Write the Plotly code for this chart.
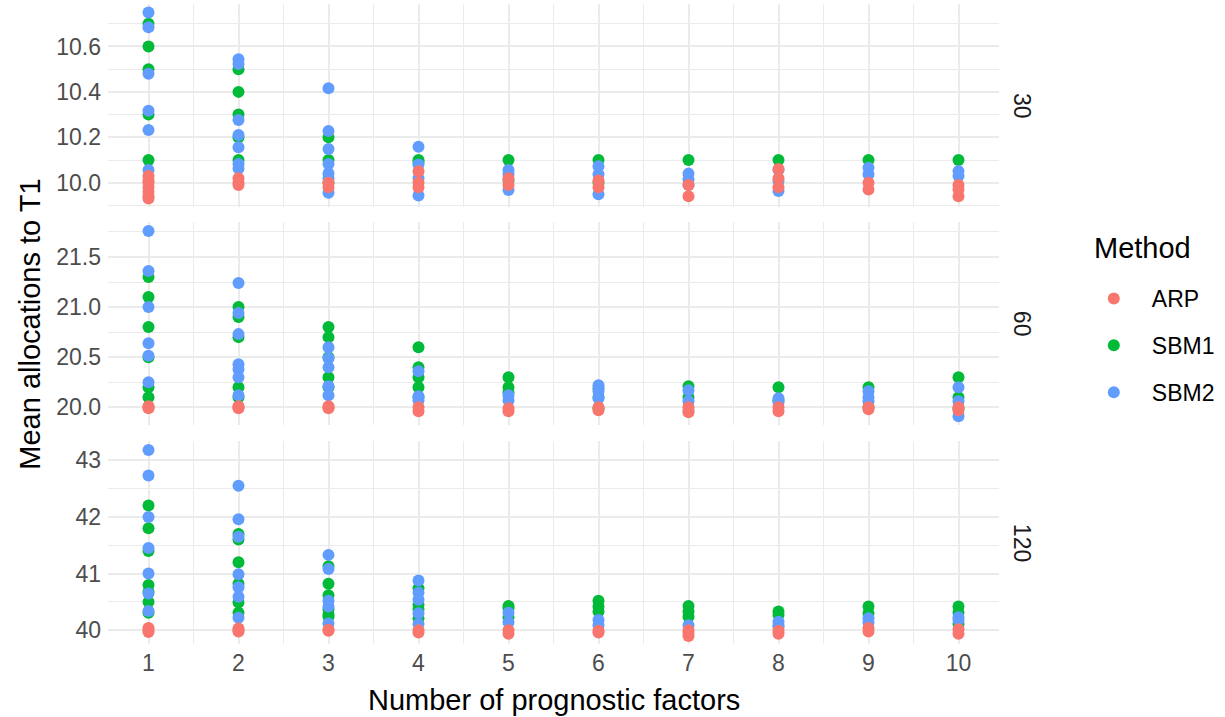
import plotly.graph_objects as go

factors = list(range(1, 11))
methods = ["ARP", "SBM1", "SBM2"]
colors = {"ARP": "#F8766D", "SBM1": "#00BA38", "SBM2": "#619CFF"}
panel_labels = ["30", "60", "120"]

# values per number of prognostic factors (1..10)
arp_30 = [[10.03, 10.01, 10.0, 9.98, 9.96, 9.94, 9.93], [10.02, 10.0, 9.99], [10.0, 9.98],
          [10.05, 10.0, 9.98], [10.02, 9.99], [10.01, 9.98], [9.99, 9.94],
          [10.06, 10.02, 9.98], [10.0, 9.97], [9.99, 9.97, 9.94]]
sbm1_30 = [[10.7, 10.6, 10.5, 10.3, 10.1], [10.5, 10.4, 10.3, 10.2, 10.1], [10.2, 10.1, 10.0],
           [10.1, 10.09], [10.1, 10.01], [10.1, 10.0], [10.1], [10.1], [10.1], [10.1]]
sbm2_30 = [[10.75, 10.685, 10.48, 10.317, 10.232, 10.056],
           [10.544, 10.523, 10.276, 10.21, 10.156, 10.082, 10.063],
           [10.416, 10.228, 10.148, 10.082, 10.041, 10.02, 9.956],
           [10.158, 10.08, 10.02, 9.944], [10.056, 10.037, 9.968], [10.073, 10.037, 9.949],
           [10.04, 10.015, 9.99], [10.056, 10.007, 9.963], [10.066, 10.037], [10.051, 10.03]]

arp_60 = [[20.01, 20.0, 19.99], [20.01, 20.0, 19.99], [20.01, 20.0, 19.99], [20.0, 19.96],
          [19.99, 19.96], [20.0, 19.97], [20.0, 19.95], [20.0, 19.96], [19.98, 20.0], [19.97, 20.0]]
sbm1_60 = [[21.3, 21.1, 20.8, 20.5, 20.2, 20.1], [21.0, 20.9, 20.7, 20.2, 20.1],
           [20.8, 20.7, 20.5, 20.3, 20.2], [20.6, 20.4, 20.3, 20.2, 20.1], [20.3, 20.2, 20.15],
           [20.19, 20.1, 19.99], [20.21, 20.1], [20.2, 20.07], [20.2, 20.0], [20.3, 20.1, 19.99]]
sbm2_60 = [[21.76, 21.36, 21.0, 20.64, 20.515, 20.25], [21.24, 20.94, 20.73, 20.43, 20.38, 20.3, 20.12],
           [20.6, 20.49, 20.4, 20.21, 20.12], [20.36, 20.11, 20.07], [20.12, 20.07],
           [20.22, 20.16, 20.09], [20.17, 20.06, 19.97], [20.09, 20.05], [20.16, 20.1, 20.06],
           [20.2, 20.06, 19.91]]

arp_120 = [[40.04, 40.0, 39.97], [40.03, 40.0, 39.98], [40.01, 39.99], [40.0, 39.96], [40.0, 39.94],
           [39.99, 39.96], [40.0, 39.95, 39.9], [39.99, 39.94], [40.04, 39.98], [40.02, 39.94]]
sbm1_120 = [[42.2, 41.8, 41.4, 40.8, 40.68, 40.5, 40.31], [41.7, 41.6, 41.2, 40.82, 40.49, 40.31],
            [41.13, 40.82, 40.62, 40.37, 40.28, 40.24], [40.74, 40.45, 40.37, 40.21],
            [40.43, 40.39, 40.23], [40.52, 40.42, 40.33], [40.43, 40.33, 40.24], [40.33, 40.27],
            [40.42, 40.3], [40.42, 40.31, 40.11]]
sbm2_120 = [[43.18, 42.73, 42.0, 41.45, 41.0, 40.65, 40.34], [42.55, 41.96, 41.65, 40.99, 40.76, 40.59, 40.22],
            [41.33, 41.08, 40.52, 40.42, 40.12], [40.88, 40.66, 40.54, 40.3, 40.11], [40.31, 40.14],
            [40.18, 40.09], [40.09], [40.15, 40.09, 40.06], [40.21, 40.14], [40.23, 40.18]]

data = {
    "30": {"ARP": arp_30, "SBM1": sbm1_30, "SBM2": sbm2_30},
    "60": {"ARP": arp_60, "SBM1": sbm1_60, "SBM2": sbm2_60},
    "120": {"ARP": arp_120, "SBM1": sbm1_120, "SBM2": sbm2_120},
}

FONT = "Liberation Sans, Arial, sans-serif"
GRID = "#EBEBEB"

panel_axes = {"30": ("x3", "y3"), "60": ("x2", "y2"), "120": ("x", "y")}

fig = go.Figure()
draw_order = ["SBM1", "SBM2", "ARP"]
rank = {"ARP": 1, "SBM1": 2, "SBM2": 3}
for p in panel_labels:
    xa, ya = panel_axes[p]
    for m in draw_order:
        xs, ys = [], []
        for f, vals in zip(factors, data[p][m]):
            xs += [f] * len(vals)
            ys += vals
        fig.add_trace(go.Scatter(
            x=xs, y=ys, mode="markers", name=m, xaxis=xa, yaxis=ya,
            marker=dict(color=colors[m], size=12, line=dict(width=0)),
            legendgroup=m, legendrank=rank[m], showlegend=(p == "30"),
        ))

L, R, T, B = 108.3, 999.2, 4, 644
W, H = 1225, 717
pw, ph = R - L, B - T

def ydom(top, bot):
    return [(B - bot) / ph, (B - top) / ph]

xcommon = dict(range=[0.55, 10.45], tickmode="array", tickvals=factors,
               showgrid=True, gridcolor=GRID, gridwidth=2, zeroline=False, showline=False,
               ticks="", minor=dict(dtick=0.5, tick0=0.5, showgrid=True, gridcolor=GRID, gridwidth=1.1),
               tickfont=dict(size=23, color="#4D4D4D", family=FONT), domain=[0, 1])

ycommon = dict(showgrid=True, gridcolor=GRID, gridwidth=2, zeroline=False, showline=False,
               ticks="", tickfont=dict(size=23, color="#4D4D4D", family=FONT),
               automargin=False, ticklabelstandoff=6)

fig.update_layout(
    width=W, height=H,
    margin=dict(l=L, r=W - R, t=T, b=H - B, autoexpand=False),
    paper_bgcolor="white", plot_bgcolor="white",
    font=dict(family=FONT, color="black"),
    xaxis=dict(**xcommon, anchor="y", ticklabelstandoff=3),
    xaxis2=dict(**xcommon, anchor="y2", matches="x", showticklabels=False),
    xaxis3=dict(**xcommon, anchor="y3", matches="x", showticklabels=False),
    yaxis=dict(**ycommon, domain=ydom(440.7, 644), range=[39.758, 43.344], tick0=40, dtick=1,
               tickformat="d", minor=dict(dtick=0.5, showgrid=True, gridcolor=GRID, gridwidth=1.1)),
    yaxis2=dict(**ycommon, domain=ydom(221.7, 425), range=[19.823, 21.852], tick0=20, dtick=0.5,
                tickformat=".1f", minor=dict(dtick=0.25, showgrid=True, gridcolor=GRID, gridwidth=1.1)),
    yaxis3=dict(**ycommon, domain=ydom(4, 207), range=[9.893, 10.787], tick0=10, dtick=0.2,
                tickformat=".1f", minor=dict(dtick=0.1, showgrid=True, gridcolor=GRID, gridwidth=1.1)),
    legend=dict(x=(1076 - L) / pw, xanchor="left", y=(B - 277) / ph, yanchor="top",
                itemwidth=66, tracegroupgap=14, font=dict(size=23, color="black", family=FONT),
                bgcolor="rgba(0,0,0,0)", borderwidth=0, itemclick=False),
    showlegend=True,
)

ann = []
strip_y = {"30": (4 + 207) / 2, "60": (221.7 + 425) / 2, "120": (440.7 + 644) / 2}
for p in panel_labels:
    ann.append(dict(text=p, x=(1021.7 - L) / pw, y=(B - strip_y[p]) / ph, xref="paper", yref="paper",
                    showarrow=False, textangle=90, xanchor="center", yanchor="middle",
                    font=dict(size=23, color="#1A1A1A", family=FONT)))
ann.append(dict(text="Mean allocations to T1", x=(30 - L) / pw, y=(B - 324) / ph, xref="paper",
                yref="paper", showarrow=False, textangle=-90, xanchor="center", yanchor="middle",
                font=dict(size=29, color="black", family=FONT)))
ann.append(dict(text="Number of prognostic factors", x=(554 - L) / pw, y=(B - 700) / ph, xref="paper",
                yref="paper", showarrow=False, xanchor="center", yanchor="middle",
                font=dict(size=29, color="black", family=FONT)))
ann.append(dict(text="Method", x=(1091.7 - L) / pw, y=(B - 248) / ph, xref="paper", yref="paper",
                showarrow=False, xanchor="left", yanchor="middle",
                font=dict(size=29, color="black", family=FONT)))
fig.update_layout(annotations=ann)

fig.write_html("out.html", config={"displayModeBar": False},
               post_script="document.body.style.margin='0';document.body.style.overflow='hidden';")
